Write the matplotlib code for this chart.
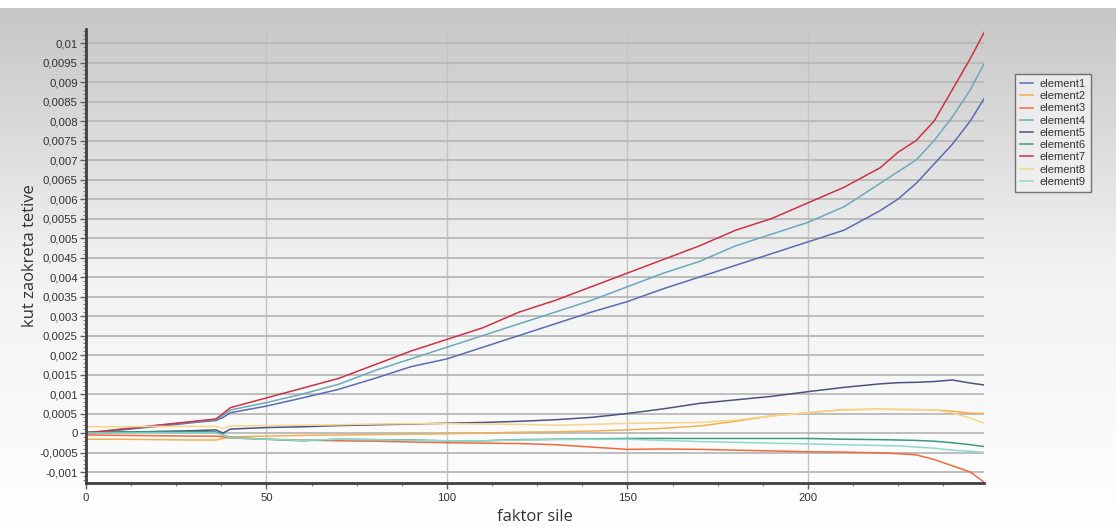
import numpy as np
import matplotlib
matplotlib.use("Agg")
import matplotlib.pyplot as plt
from matplotlib.ticker import MultipleLocator, FuncFormatter
from matplotlib.colors import LinearSegmentedColormap

x = [0, 10, 20, 30, 36, 38, 40, 50, 60, 70, 80, 90, 100, 110, 120, 130, 140, 150,
     160, 170, 180, 190, 200, 210, 220, 225, 230, 235, 240, 245, 249]

element1 = [-0.00002, 0.00008, 0.00017, 0.00027, 0.00032, 0.0004, 0.00052, 0.00069, 0.0009, 0.00112,
            0.0014, 0.0017, 0.0019, 0.0022, 0.0025, 0.0028, 0.0031, 0.00337, 0.0037, 0.004,
            0.0043, 0.0046, 0.0049, 0.0052, 0.0057, 0.006, 0.0064, 0.0069, 0.0074, 0.008, 0.0086]
element2 = [-0.00016, -0.00016, -0.00017, -0.00018, -0.00018, -0.00014, -0.0001, -0.00008, -0.00006, -0.00005,
            -0.00004, -0.00003, -0.00002, 0.0, 0.00002, 0.00003, 0.00005, 0.00008, 0.00012, 0.00018,
            0.0003, 0.00044, 0.00052, 0.0006, 0.00061, 0.0006, 0.0006, 0.00059, 0.00056, 0.00051, 0.0005]
element3 = [-0.00005, -0.00006, -0.00007, -0.00008, -0.00008, -0.0001, -0.00013, -0.00016, -0.00018, -0.0002,
            -0.00021, -0.00023, -0.00025, -0.00026, -0.00027, -0.0003, -0.00036, -0.00042, -0.00041, -0.00042,
            -0.00044, -0.00046, -0.00048, -0.00049, -0.00051, -0.00053, -0.00056, -0.00068, -0.00084, -0.001, -0.00127]
element4 = [0.0, 0.0001, 0.0002, 0.00029, 0.00034, 0.00045, 0.00059, 0.00078, 0.001, 0.00125,
            0.0016, 0.0019, 0.0022, 0.0025, 0.0028, 0.0031, 0.0034, 0.00375, 0.0041, 0.0044,
            0.0048, 0.0051, 0.0054, 0.0058, 0.0064, 0.0067, 0.007, 0.0075, 0.0081, 0.0088, 0.0095]
element5 = [0.0, 0.00002, 0.00004, 0.00006, 0.00008, 0.0, 0.0001, 0.00014, 0.00016, 0.00019,
            0.00021, 0.00023, 0.00025, 0.00027, 0.0003, 0.00034, 0.0004, 0.0005, 0.00062, 0.00076,
            0.00085, 0.00094, 0.00106, 0.00117, 0.00126, 0.00129, 0.0013, 0.00132, 0.00136, 0.00128, 0.00123]
element6 = [0.00003, 0.00003, 0.00003, 0.00003, 0.00003, -0.00005, -0.00011, -0.00016, -0.0002, -0.00016,
            -0.00017, -0.00018, -0.0002, -0.0002, -0.00017, -0.00016, -0.00015, -0.00014, -0.00014, -0.00014,
            -0.00014, -0.00014, -0.00014, -0.00016, -0.00017, -0.00018, -0.00019, -0.00021, -0.00025, -0.0003, -0.00035]
element7 = [0.0, 0.0001, 0.0002, 0.0003, 0.00036, 0.0005, 0.00065, 0.0009, 0.00115, 0.0014,
            0.00175, 0.0021, 0.0024, 0.0027, 0.0031, 0.0034, 0.00375, 0.0041, 0.00445, 0.0048,
            0.0052, 0.0055, 0.0059, 0.0063, 0.0068, 0.0072, 0.0075, 0.008, 0.0088, 0.0096, 0.0103]
element8 = [0.00016, 0.00016, 0.00017, 0.00017, 0.00017, 0.00011, 0.00018, 0.00019, 0.0002, 0.00021,
            0.00023, 0.00024, 0.00024, 0.00023, 0.00022, 0.0002, 0.00022, 0.00025, 0.00026, 0.00027,
            0.00033, 0.00044, 0.00052, 0.00059, 0.00061, 0.00061, 0.0006, 0.00059, 0.00052, 0.00038, 0.00025]
element9 = [0.0, 0.0, 0.0, 0.0, 0.0, -0.00006, -0.00012, -0.00016, -0.00019, -0.00016,
            -0.00017, -0.00019, -0.0002, -0.0002, -0.00018, -0.00017, -0.00016, -0.00016, -0.00019, -0.00022,
            -0.00024, -0.00026, -0.00028, -0.0003, -0.00032, -0.00033, -0.00036, -0.00039, -0.00044, -0.00047, -0.0005]

names = ["element1", "element2", "element3", "element4", "element5",
         "element6", "element7", "element8", "element9"]
series = [element1, element2, element3, element4, element5,
          element6, element7, element8, element9]
colors = ["#5b6cb3", "#f2b04e", "#f06a40", "#6aaabb", "#4a5580",
          "#3a9a80", "#cc3344", "#f7d58a", "#8fd8cc"]

W, H = 1116, 528
fig = plt.figure(figsize=(W / 100, H / 100), dpi=100)
fig.patch.set_facecolor("white")

# gradient background
bg = fig.add_axes([0, 0, 1, 1 - 8 / H], zorder=-10)
grad = np.linspace(0, 1, 256).reshape(-1, 1)
cmap = LinearSegmentedColormap.from_list("g", ["#ffffff", "#f2f2f2", "#c6c6c6"])
bg.imshow(grad, aspect="auto", cmap=cmap, origin="lower", extent=[0, 1, 0, 1])
bg.set_axis_off()

ax = fig.add_axes([86 / W, 45 / H, 898 / W, 454 / H])
ax.set_facecolor("none")

for name, vals, c in zip(names, series, colors):
    ax.plot(x, vals, color=c, lw=1.1, label=name)

ax.set_xlim(0, 248.8)
ax.set_ylim(-0.001282, 0.010359)

ax.xaxis.set_major_locator(MultipleLocator(50))
ax.xaxis.set_minor_locator(MultipleLocator(12.5))
ax.yaxis.set_major_locator(MultipleLocator(0.0005))
ax.yaxis.set_minor_locator(MultipleLocator(0.0001))


def fmt(v, pos):
    if abs(v) < 1e-12:
        return "0"
    s = f"{v:.4f}".rstrip("0").rstrip(".")
    return s.replace(".", ",")


ax.yaxis.set_major_formatter(FuncFormatter(fmt))
ax.xaxis.set_major_formatter(FuncFormatter(lambda v, p: f"{int(round(v))}"))

ax.grid(axis="y", which="major", color="#b8b8b8", lw=1.3, zorder=0)
ax.grid(axis="x", which="major", color="#c4c4c4", lw=1.0, zorder=0)
ax.set_axisbelow(True)

for s in ["top", "right"]:
    ax.spines[s].set_visible(False)
for s in ["left", "bottom"]:
    ax.spines[s].set_color("#404040")
    ax.spines[s].set_linewidth(2)

ax.tick_params(axis="both", which="major", length=4, width=1, color="#606060",
               labelsize=8.2, labelcolor="#333333")
ax.tick_params(axis="both", which="minor", length=2, width=0.8, color="#808080")
ax.tick_params(axis="x", which="major", pad=3)
ax.tick_params(axis="y", which="major", pad=2)
for lab in ax.get_xticklabels() + ax.get_yticklabels():
    lab.set_family("Liberation Sans")

fig.text(535 / W, 1 - 517 / H, "faktor sile", fontsize=12, color="#333333",
         family="Open Sans", ha="center", va="center")
fig.text(30 / W, 1 - 256 / H, "kut zaokreta tetive", fontsize=12, color="#333333",
         family="Open Sans", ha="center", va="center", rotation=90)

leg = fig.legend(loc="upper left", bbox_to_anchor=(1015 / W, 1 - 74 / H),
                 prop={"family": "Liberation Sans", "size": 8},
                 frameon=True, fancybox=False, handlelength=1.2, handletextpad=0.6,
                 labelspacing=0.2, borderpad=0.45, borderaxespad=0)
leg.get_frame().set_edgecolor("#555555")
leg.get_frame().set_facecolor("#f2f2f2")
leg.get_frame().set_linewidth(1)
for t in leg.get_texts():
    t.set_color("#333333")

fig.savefig("out.png", dpi=100)
